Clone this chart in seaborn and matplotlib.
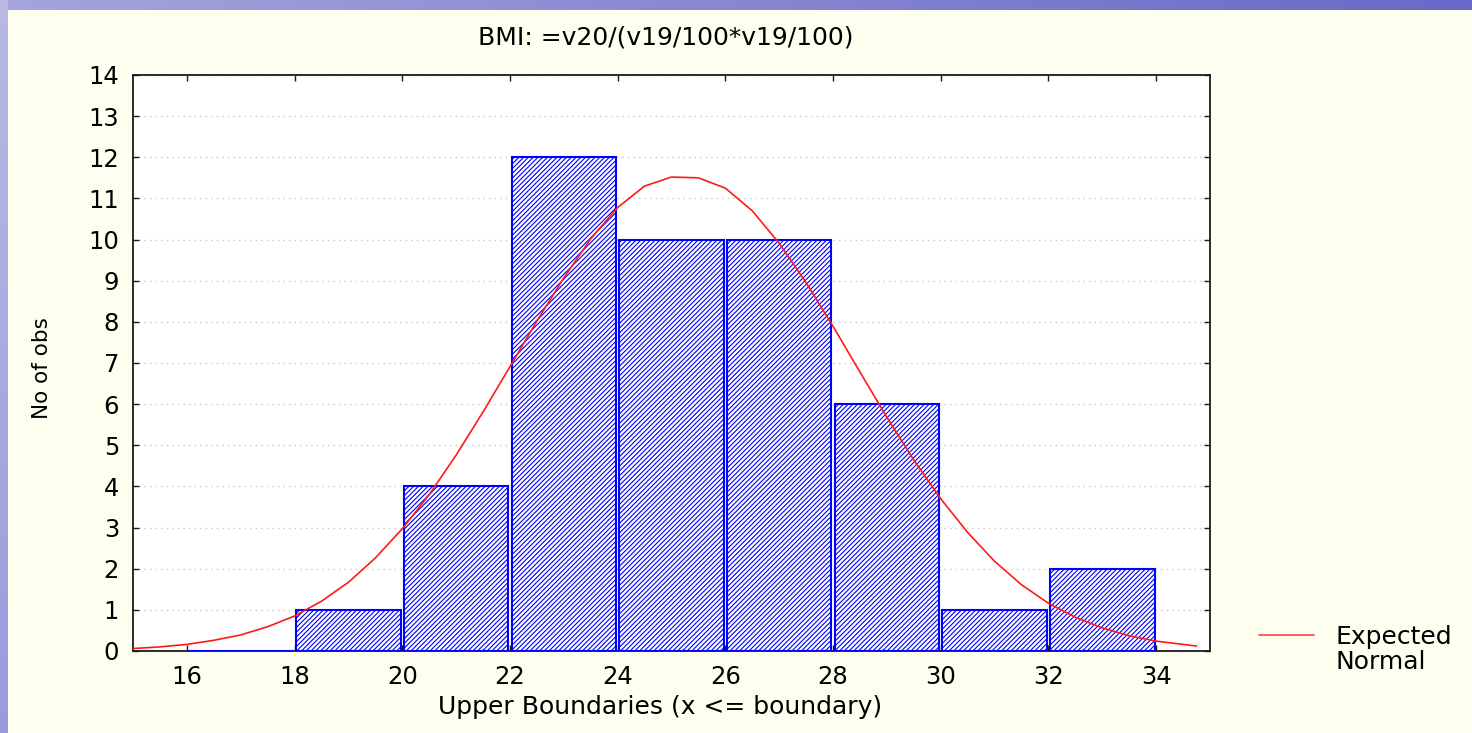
import matplotlib
matplotlib.use("Agg")
import matplotlib.pyplot as plt
from matplotlib.patches import Rectangle
from matplotlib.lines import Line2D
import numpy as np
import seaborn as sns

# Class boundaries and observed counts per class
bin_edges = [16, 18, 20, 22, 24, 26, 28, 30, 32, 34]
counts = [0, 1, 4, 12, 10, 10, 6, 1, 2]

# Expected normal curve, expressed as counts per class
curve_x = [15.0, 15.5, 16.0, 16.5, 17.0, 17.5, 18.0, 18.5, 19.0, 19.5,
           20.0, 20.5, 21.0, 21.5, 22.0, 22.5, 23.0, 23.5, 24.0, 24.5,
           25.0, 25.5, 26.0, 26.5, 27.0, 27.5, 28.0, 28.5, 29.0, 29.5,
           30.0, 30.5, 31.0, 31.5, 32.0, 32.5, 33.0, 33.5, 34.0, 34.5, 34.75]
curve_y = [0.06, 0.10, 0.16, 0.26, 0.39, 0.59, 0.85, 1.21, 1.67, 2.26,
           2.97, 3.80, 4.76, 5.81, 6.91, 8.02, 9.07, 10.02, 10.78, 11.30,
           11.52, 11.50, 11.25, 10.70, 9.91, 8.95, 7.89, 6.78, 5.68, 4.64,
           3.70, 2.88, 2.18, 1.61, 1.16, 0.82, 0.56, 0.37, 0.24, 0.16, 0.12]

x_ticks = [16, 18, 20, 22, 24, 26, 28, 30, 32, 34]
y_ticks = list(range(0, 15))

title_text = "BMI: =v20/(v19/100*v19/100)"
x_label = "Upper Boundaries (x <= boundary)"
y_label = "No of obs"
legend_labels = ["Expected", "Normal"]

sns.set_theme(style="white")
plt.rcParams["font.family"] = ["DejaVu Sans"]
plt.rcParams["hatch.linewidth"] = 0.8

W, H = 1472, 733
fig = plt.figure(figsize=(W / 100, H / 100), dpi=100)

# Slide-style backdrop: blue frame on the top and left, cream page
bg = fig.add_axes([0, 0, 1, 1], zorder=-10)
bg.set_xlim(0, W)
bg.set_ylim(H, 0)
bg.axis("off")
grad = np.linspace(0, 1, 256)
top_rgb = np.zeros((1, 256, 3))
top_rgb[0, :, 0] = (165 - 60 * grad) / 255
top_rgb[0, :, 1] = (165 - 60 * grad) / 255
top_rgb[0, :, 2] = (220 - 20 * grad) / 255
bg.imshow(top_rgb, extent=(0, W, 11, 0), aspect="auto")
left_rgb = np.zeros((256, 1, 3))
left_rgb[:, 0, 0] = (185 - 30 * grad) / 255
left_rgb[:, 0, 1] = (185 - 30 * grad) / 255
left_rgb[:, 0, 2] = (228 - 8 * grad) / 255
bg.imshow(left_rgb, extent=(0, 8, H, 0), aspect="auto")
bg.add_patch(Rectangle((8, 10), W - 8, H - 10, facecolor="#fffff0", edgecolor="none"))
fig.patch.set_facecolor("#fffff0")

ax = fig.add_axes([133 / W, 1 - 651 / H, (1210 - 133) / W, (651 - 75) / H])
ax.set_facecolor("white")
ax.set_axisbelow(True)

centers = [(a + b) / 2 for a, b in zip(bin_edges[:-1], bin_edges[1:])]
sns.histplot(x=centers, weights=counts, bins=bin_edges, shrink=0.97,
             facecolor="white", edgecolor="#0000ff", linewidth=1.5,
             hatch="///////", ax=ax, zorder=2.6)

sns.lineplot(x=curve_x, y=curve_y, color="#ff1a1a", linewidth=1.2,
             sort=False, estimator=None, ax=ax, zorder=3)

ax.set_xlim(15, 35)
ax.set_ylim(0, 14)
ax.set_xticks(x_ticks)
ax.set_yticks(y_ticks)
ax.set_xticklabels([str(t) for t in x_ticks])
ax.set_yticklabels([str(t) for t in y_ticks])
ax.yaxis.grid(True, linestyle=(0, (1, 3)), color="#c8c8c8", linewidth=1.0)
ax.xaxis.grid(False)

for s in ax.spines.values():
    s.set_visible(True)
    s.set_color("#1a1a1a")
    s.set_linewidth(1.3)

ax.tick_params(which="both", direction="in", length=4, width=1.0,
               top=True, right=True, bottom=True, left=True,
               labelsize=17.5, colors="#1a1a1a", pad=10)
ax.tick_params(axis="both", labelcolor="black")

ax.set_xlabel(x_label, fontsize=18, color="black", va="top")
ax.xaxis.set_label_coords(0.489, -0.076)
ax.set_ylabel(y_label, fontsize=15.5, color="black")
ax.yaxis.label.set_va("center")
ax.yaxis.set_label_coords(-0.0845, 0.492)

fig.text(666 / W, 1 - 37 / H, title_text, fontsize=18, ha="center", va="center",
         color="black")

handles = [Line2D([], [], color="#ff4040", linewidth=1.2),
           Line2D([], [], color="none")]
leg = fig.legend(handles, legend_labels, loc="upper left",
                 bbox_to_anchor=(1259 / W, 1 - 625 / H), frameon=False,
                 fontsize=18, handlelength=2.2, handletextpad=0.85,
                 labelspacing=0.05, borderpad=0, borderaxespad=0)
for t in leg.get_texts():
    t.set_color("black")

fig.savefig("out.png", dpi=100, facecolor=fig.get_facecolor())
